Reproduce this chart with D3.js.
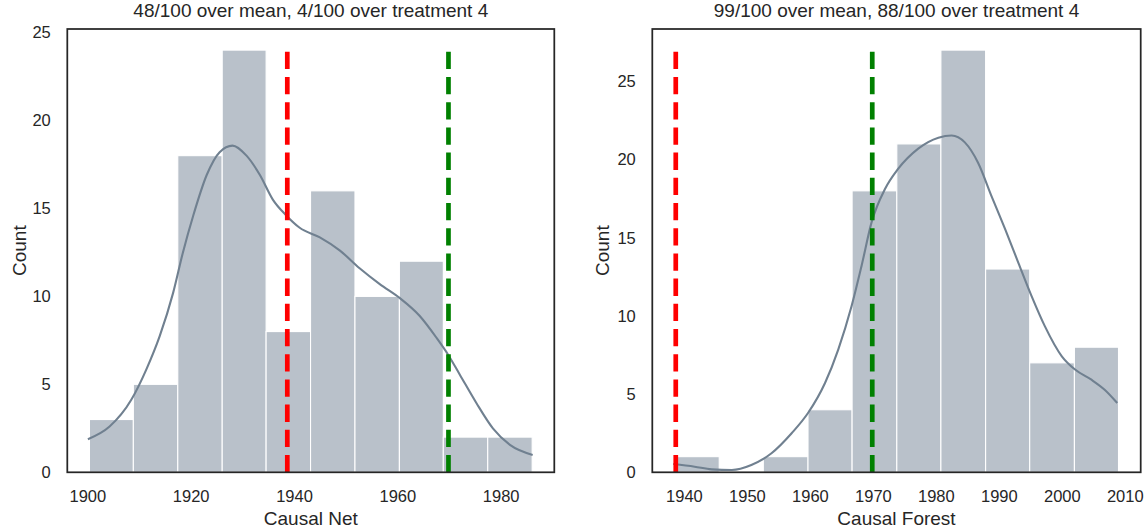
<!DOCTYPE html>
<html>
<head>
<meta charset="utf-8">
<script src="https://cdn.jsdelivr.net/npm/d3@7/dist/d3.min.js"></script>
<style>
  html, body { margin: 0; padding: 0; background: #fff; }
  svg { display: block; font-family: "Liberation Sans", Arial, sans-serif; }
</style>
</head>
<body>
<svg id="chart" width="1144" height="531"></svg>
<script>
// ---- Causal Net histogram ----
const netTitle = "48/100 over mean, 4/100 over treatment 4";
const netLabel = "Causal Net";
const netBinEdges = [1900.4, 1908.9, 1917.5, 1926.1, 1934.6, 1943.2, 1951.8, 1960.4, 1968.9, 1977.5, 1986.1];
const netCounts = [3, 5, 18, 24, 8, 16, 10, 12, 2, 2];
const netKdeX = [1900.1, 1904.3, 1908.5, 1911.4, 1914.0, 1916.6, 1918.5, 1920.5, 1923.1, 1925.6, 1928.1, 1930.8, 1933.4, 1935.9, 1938.5, 1941.1, 1945.0, 1948.9, 1952.7, 1956.6, 1960.5, 1964.3, 1967.6, 1969.8, 1972.1, 1975.3, 1978.5, 1981.8, 1986.2];
const netKdeY = [1.88, 2.6, 4.12, 5.84, 7.74, 10.2, 12.5, 14.6, 16.9, 18.2, 18.57, 18.0, 16.9, 15.5, 14.6, 13.9, 13.35, 12.6, 11.6, 10.7, 9.9, 8.9, 7.64, 6.7, 5.55, 3.94, 2.5, 1.56, 0.99];
const netXTicks = [1900, 1920, 1940, 1960, 1980];
const netYTicks = [0, 5, 10, 15, 20, 25];

// ---- Causal Forest histogram ----
const forestTitle = "99/100 over mean, 88/100 over treatment 4";
const forestLabel = "Causal Forest";
const forestBinEdges = [1938.5, 1945.6, 1952.6, 1959.7, 1966.7, 1973.8, 1980.8, 1987.9, 1994.9, 2002.0, 2009.0];
const forestCounts = [1, 0, 1, 4, 18, 21, 27, 13, 7, 8];
const forestKdeX = [1938.3, 1941.7, 1944.4, 1947.6, 1950.7, 1953.9, 1957.1, 1959.7, 1962.4, 1964.5, 1966.6, 1968.2, 1969.8, 1971.9, 1974.0, 1977.2, 1980.4, 1982.5, 1984.6, 1986.7, 1988.8, 1991.0, 1993.1, 1995.2, 1997.3, 2000.0, 2002.1, 2004.7, 2006.8, 2008.8];
const forestKdeY = [0.53, 0.36, 0.19, 0.15, 0.47, 1.22, 2.5, 3.79, 5.71, 7.85, 10.6, 13.2, 16.0, 18.1, 19.4, 20.7, 21.4, 21.54, 21.1, 19.8, 17.7, 15.55, 13.4, 11.27, 9.35, 7.42, 6.57, 5.92, 5.28, 4.43];
const forestXTicks = [1940, 1950, 1960, 1970, 1980, 1990, 2000, 2010];
const forestYTicks = [0, 5, 10, 15, 20, 25];

// ---- reference lines shared by both panels ----
const meanValue = 1938.7;
const treatment4Value = 1969.9;

const yLabel = "Count";

const TEXT = "#262626";
const BAR_FILL = "#b9c1ca";
const KDE_COLOR = "#708090";
const TICK_FONT = "16.5px";
const LABEL_FONT = "19px";

const svg = d3.select("#chart");

function drawPanel(p) {
  const { left, right, top, bottom } = p.box;
  const g = svg.append("g");

  // x limits: data range with 5% padding on each side
  const lo = p.edges[0], hi = p.edges[p.edges.length - 1];
  const pad = (hi - lo) * 0.05;
  const x = d3.scaleLinear().domain([lo - pad, hi + pad]).range([left, right]);
  const maxCount = d3.max(p.counts);
  const y = d3.scaleLinear().domain([0, maxCount * 1.05]).range([bottom, top]);

  // histogram bars
  const bins = p.counts.map((c, i) => ({ x0: p.edges[i], x1: p.edges[i + 1], c }));
  g.append("g").selectAll("rect")
    .data(bins.filter(b => b.c > 0))
    .join("rect")
    .attr("x", d => x(d.x0))
    .attr("width", d => x(d.x1) - x(d.x0))
    .attr("y", d => y(d.c))
    .attr("height", d => y(0) - y(d.c))
    .attr("fill", BAR_FILL)
    .attr("stroke", "#fff")
    .attr("stroke-width", 1.1);

  // density curve
  const kde = p.kdeX.map((v, i) => [v, p.kdeY[i]]);
  g.append("path")
    .datum(kde)
    .attr("fill", "none")
    .attr("stroke", KDE_COLOR)
    .attr("stroke-width", 2.1)
    .attr("d", d3.line().x(d => x(d[0])).y(d => y(d[1])).curve(d3.curveMonotoneX));

  // dashed reference lines from 0 up to the tallest bar
  const vlines = [{ v: meanValue, color: "#ff0000" }, { v: treatment4Value, color: "#008000" }];
  g.append("g").selectAll("path")
    .data(vlines)
    .join("path")
    .attr("d", d => `M${x(d.v)},${y(0)}L${x(d.v)},${y(maxCount)}`)
    .attr("stroke", d => d.color)
    .attr("stroke-width", 4.7)
    .attr("stroke-dasharray", "17.3,7.9")
    .attr("fill", "none");

  // axes (no tick marks, labels only)
  const xAxis = g.append("g")
    .attr("transform", `translate(0,${bottom})`)
    .call(d3.axisBottom(x).tickValues(p.xTicks).tickFormat(d3.format("d")).tickSize(0).tickPadding(18));
  const yAxis = g.append("g")
    .attr("transform", `translate(${left},0)`)
    .call(d3.axisLeft(y).tickValues(p.yTicks).tickFormat(d3.format("d")).tickSize(0).tickPadding(16.5));
  [xAxis, yAxis].forEach(a => {
    a.select(".domain").remove();
    a.selectAll("text")
      .attr("fill", TEXT)
      .style("font-size", TICK_FONT)
      .style("font-family", '"Liberation Sans", Arial, sans-serif');
  });

  // frame
  g.append("rect")
    .attr("x", left).attr("y", top)
    .attr("width", right - left).attr("height", bottom - top)
    .attr("fill", "none")
    .attr("stroke", TEXT)
    .attr("stroke-width", 1.75);

  // title and axis labels
  const cx = (left + right) / 2;
  g.append("text")
    .attr("x", cx).attr("y", 17)
    .attr("text-anchor", "middle")
    .attr("fill", TEXT)
    .style("font-size", LABEL_FONT)
    .text(p.title);
  g.append("text")
    .attr("x", cx).attr("y", 525)
    .attr("text-anchor", "middle")
    .attr("fill", TEXT)
    .style("font-size", LABEL_FONT)
    .text(p.xLabel);
  g.append("text")
    .attr("transform", `translate(${p.yLabelX},${(top + bottom) / 2}) rotate(-90)`)
    .attr("text-anchor", "middle")
    .attr("dy", "0.35em")
    .attr("fill", TEXT)
    .style("font-size", LABEL_FONT)
    .text(yLabel);
}

drawPanel({
  box: { left: 67.3, right: 554.3, top: 29, bottom: 472.3 },
  edges: netBinEdges, counts: netCounts, kdeX: netKdeX, kdeY: netKdeY,
  xTicks: netXTicks, yTicks: netYTicks,
  title: netTitle, xLabel: netLabel, yLabelX: 19
});

drawPanel({
  box: { left: 652.3, right: 1140.7, top: 29, bottom: 472.3 },
  edges: forestBinEdges, counts: forestCounts, kdeX: forestKdeX, kdeY: forestKdeY,
  xTicks: forestXTicks, yTicks: forestYTicks,
  title: forestTitle, xLabel: forestLabel, yLabelX: 602
});
</script>
</body>
</html>
